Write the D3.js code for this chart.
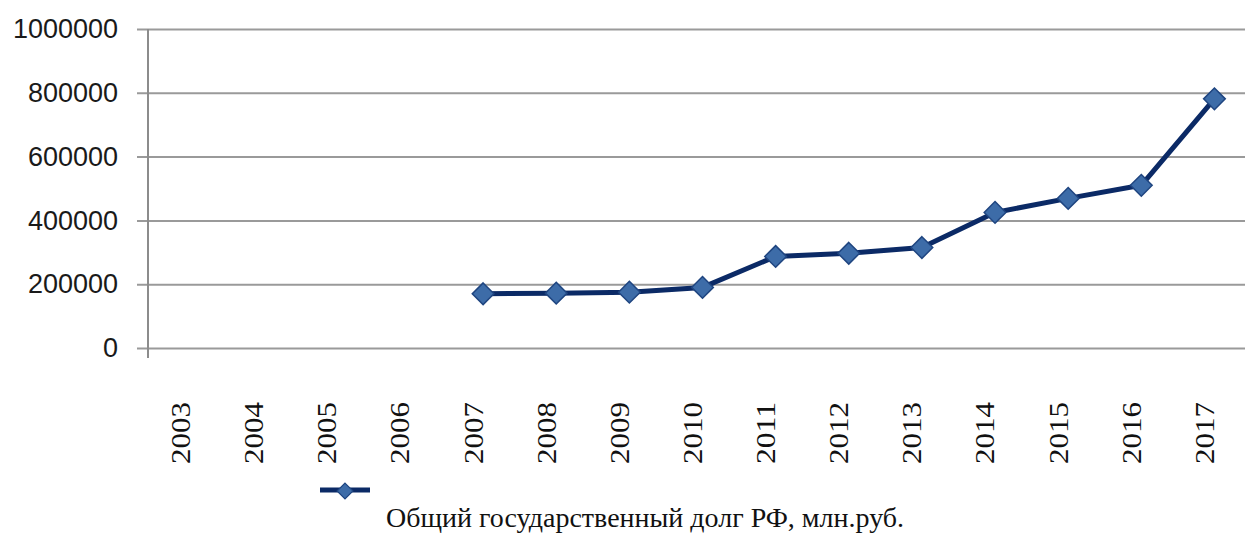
<!DOCTYPE html>
<html lang="ru">
<head>
    <meta charset="UTF-8">
    <title>Общий государственный долг РФ</title>
    <script src="https://cdn.jsdelivr.net/npm/d3@7"></script>
    <style>
        body { margin: 0; background: #fff; }
        svg { display: block; }
    </style>
</head>
<body>
    <svg width="1250" height="533"></svg>
    <script>
        // data
        var years = ["2003","2004","2005","2006","2007","2008","2009","2010","2011","2012","2013","2014","2015","2016","2017"];
        var debt = [null,null,null,null,170000,172000,175000,190000,287000,297000,315000,425000,469000,510000,781000];
        var yTicks = [0,200000,400000,600000,800000,1000000];
        var seriesName = "Общий государственный долг РФ, млн.руб.";

        var svg = d3.select("svg");
        var marge = {top:29, left:148, right:5, bottom:185};
        var width = +svg.attr("width");
        var height = +svg.attr("height");

        var xScale = d3.scaleBand()
            .domain(years)
            .range([marge.left, width - marge.right]);
        var yScale = d3.scaleLinear()
            .domain([0, 1000000])
            .range([348, marge.top]);

        // grid + y axis labels
        var yAxis = d3.axisLeft(yScale)
            .tickValues(yTicks)
            .tickSize(-(width - marge.right - marge.left + 11))
            .tickPadding(19)
            .tickFormat(d3.format("d"));
        var gy = svg.append("g")
            .attr("transform", "translate(" + (marge.left - 11) + ",0)")
            .call(yAxis);
        gy.select(".domain").remove();
        gy.selectAll(".tick line")
            .attr("stroke", "#9a9a9a")
            .attr("stroke-width", 2);
        gy.selectAll(".tick text")
            .attr("fill", "#1a1a1a")
            .style("font-family", "'Liberation Sans', Arial, sans-serif")
            .style("font-size", "27px");

        // vertical axis line
        svg.append("line")
            .attr("x1", marge.left).attr("x2", marge.left)
            .attr("y1", yScale(1000000)).attr("y2", 358)
            .attr("stroke", "#8c8c8c")
            .attr("stroke-width", 2);

        // x labels (rotated)
        svg.append("g").selectAll("text")
            .data(years)
            .enter()
            .append("text")
            .attr("transform", function(d){
                return "translate(" + (xScale(d) + xScale.bandwidth()/2 - 4) + ",464) rotate(-90)";
            })
            .attr("dy", "0.35em")
            .attr("text-anchor", "start")
            .attr("textLength", 62)
            .attr("lengthAdjust", "spacingAndGlyphs")
            .style("font-family", "'Liberation Serif', 'Times New Roman', serif")
            .style("font-size", "27px")
            .attr("fill", "#111")
            .text(function(d){ return d; });

        // line
        var pts = years.map(function(y, i){ return {year:y, v:debt[i]}; })
            .filter(function(d){ return d.v !== null; });

        var line = d3.line()
            .x(function(d){ return xScale(d.year) + xScale.bandwidth()/2 + 6; })
            .y(function(d){ return yScale(d.v); });

        svg.append("path")
            .datum(pts)
            .attr("d", line)
            .attr("fill", "none")
            .attr("stroke", "#0b2a66")
            .attr("stroke-width", 5)
            .attr("stroke-linejoin", "round");

        var diamond = d3.symbol().type(d3.symbolDiamond2).size(300);

        svg.append("g").selectAll("path")
            .data(pts)
            .enter()
            .append("path")
            .attr("d", diamond)
            .attr("transform", function(d){
                return "translate(" + (xScale(d.year) + xScale.bandwidth()/2 + 6) + "," + yScale(d.v) + ")";
            })
            .attr("fill", "#3d6ca8")
            .attr("stroke", "#1f4580")
            .attr("stroke-width", 1.5);

        // legend
        var lg = svg.append("g").attr("transform", "translate(320,490)");
        lg.append("line")
            .attr("x1", 0).attr("x2", 50)
            .attr("y1", 0).attr("y2", 0)
            .attr("stroke", "#0b2a66")
            .attr("stroke-width", 5);
        lg.append("path")
            .attr("d", d3.symbol().type(d3.symbolDiamond2).size(160))
            .attr("transform", "translate(25,1)")
            .attr("fill", "#3d6ca8")
            .attr("stroke", "#1f4580")
            .attr("stroke-width", 1.2);
        svg.append("text")
            .attr("x", 386)
            .attr("y", 527)
            .attr("textLength", 518)
            .attr("lengthAdjust", "spacingAndGlyphs")
            .style("font-family", "'Liberation Serif', 'Times New Roman', serif")
            .style("font-size", "27px")
            .attr("fill", "#111")
            .text(seriesName);
    </script>
</body>
</html>
